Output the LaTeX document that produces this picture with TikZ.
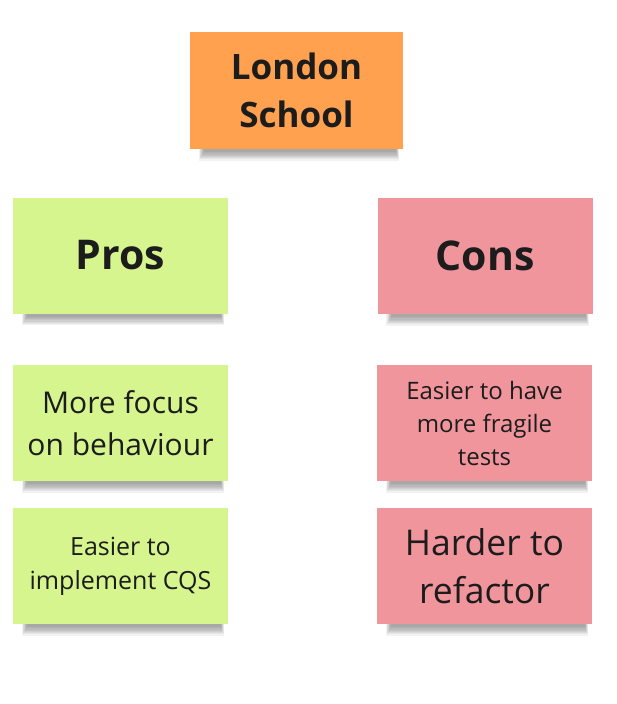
\documentclass[tikz,border=0pt]{standalone}
\usepackage{fontspec}
\setmainfont{Open Sans}
\usetikzlibrary{positioning, backgrounds}
\definecolor{orangenote}{RGB}{255, 161, 79}
\definecolor{greennote}{RGB}{214, 245, 142}
\definecolor{pinknote}{RGB}{241, 149, 157}
\definecolor{inktext}{RGB}{28, 28, 28}

\begin{document}
\begin{tikzpicture}[x=1pt, y=-1pt,
            note/.style={rectangle, fill=#1, minimum width=215pt, minimum height=116pt, inner sep=4pt, align=center, text=inktext},
            headline/.style={font=\fontsize{41}{48}\selectfont\bfseries},
            bigtext/.style={font=\fontsize{35.5}{48}\selectfont},
            midtext/.style={font=\fontsize{30}{42}\selectfont},
            smalltext/.style={font=\fontsize{24}{33}\selectfont}
        ]
            \useasboundingbox (0,0) rectangle (616,704);

            \node (school) [note=orangenote, minimum width=213pt, minimum height=117pt, font=\fontsize{35}{48}\selectfont\bfseries] at (296.5,90.5) {London\\School};
            \node (pros) [note=greennote, headline] at (120.5,255.5) {Pros};
            \node (cons) [note=pinknote, headline] at (485,256) {Cons};

            \node (focus) [note=greennote, midtext] at (120.5,423) {More focus\\on behaviour};
            \node (cqs) [note=greennote, smalltext, font=\fontsize{25}{34}\selectfont] at (120.5,566) {Easier to\\implement CQS};
            \node (fragile) [note=pinknote, smalltext] at (484.5,423) {Easier to have\\more fragile\\tests};
            \node (refactor) [note=pinknote, bigtext] at (484.5,566) {Harder to\\refactor};

            % soft shadows under the notes
            \begin{pgfonlayer}{background}
                \foreach \n in {school, pros, cons, focus, cqs, fragile, refactor} {
                    \foreach \i in {0,...,7} {
                        \fill[black, opacity=0.05]
                            ([xshift=14pt-\i*0.7pt, yshift=6pt] \n.south west)
                            rectangle ([xshift=-7pt+\i*0.4pt, yshift=-3pt-\i*1.2pt] \n.south east);
                    }
                }
            \end{pgfonlayer}
        \end{tikzpicture}
\end{document}
